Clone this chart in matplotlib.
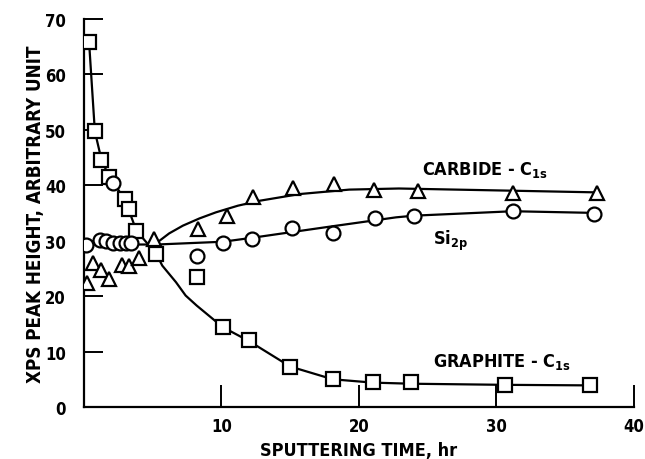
import matplotlib
matplotlib.use("Agg")
import matplotlib.pyplot as plt

# ---- data ----
graphite_x = [0.38, 0.8, 1.28, 1.84, 2.97, 3.28, 3.82, 5.27, 8.2, 10.1, 12.0, 15.0, 18.1, 21.0, 23.8, 30.6, 36.8]
graphite_y = [65.8, 49.7, 44.6, 41.5, 37.5, 35.7, 31.8, 27.6, 23.4, 14.4, 12.1, 7.3, 5.05, 4.45, 4.45, 3.9, 3.9]

carbide_x = [0.2, 0.7, 1.25, 1.85, 2.8, 3.3, 4.0, 5.1, 8.3, 10.4, 12.3, 15.2, 18.2, 21.1, 24.3, 31.2, 37.3]
carbide_y = [22.4, 25.9, 24.7, 23.0, 25.6, 25.4, 26.8, 30.3, 32.1, 34.4, 37.8, 39.5, 40.3, 39.2, 39.0, 38.6, 38.6]

si_x = [0.19, 1.16, 1.64, 2.12, 2.1, 2.6, 3.1, 3.45, 8.2, 10.1, 12.2, 15.1, 18.1, 21.2, 24.0, 31.2, 37.1]
si_y = [29.2, 30.2, 30.0, 29.6, 40.4, 29.6, 29.6, 29.6, 27.3, 29.5, 30.3, 32.3, 31.4, 34.1, 34.4, 35.4, 34.8]

# guide curves
graphite_curve_x = [0.38, 0.8, 1.28, 1.84, 2.97, 3.82, 5.27, 5.7, 6.7, 7.4, 8.2, 10.1, 12.0, 15.0, 18.1, 21.0, 23.8, 30.6, 36.8]
graphite_curve_y = [65.8, 49.7, 44.6, 41.5, 37.5, 31.8, 27.6, 25.5, 22.5, 20.1, 18.3, 14.4, 11.9, 7.3, 5.0, 4.4, 4.2, 4.0, 3.9]

carbide_curve_x = [5.3, 6.2, 7.2, 8.4, 9.6, 11.2, 12.8, 15.7, 19.3, 22.9, 31.2, 37.3]
carbide_curve_y = [29.6, 31.3, 32.7, 34.0, 35.1, 36.3, 37.2, 38.4, 39.2, 39.4, 39.0, 38.7]

si_curve_x = [0.0, 5.3, 10.1, 12.2, 15.0, 18.1, 22.7, 24.0, 31.2, 37.1]
si_curve_y = [29.3, 29.3, 29.8, 30.5, 31.5, 32.6, 34.2, 34.5, 35.3, 35.0]

x_ticks = [10, 20, 30, 40]
y_ticks = [0, 10, 20, 30, 40, 50, 60, 70]

plt.rcParams["font.family"] = ["DejaVu Sans"]
plt.rcParams["font.stretch"] = "condensed"
plt.rcParams["font.weight"] = "bold"
plt.rcParams["mathtext.fontset"] = "custom"
plt.rcParams["mathtext.rm"] = "DejaVu Sans:weight=bold:stretch=condensed"
plt.rcParams["mathtext.it"] = "DejaVu Sans:weight=bold:stretch=condensed"
plt.rcParams["mathtext.bf"] = "DejaVu Sans:weight=bold:stretch=condensed"

TXT = dict(fontsize=13, fontweight="bold", fontstretch="condensed")

fig = plt.figure(figsize=(6.45, 4.6), dpi=100)
ax = fig.add_axes([0.130, 0.113, 0.853, 0.844])

lw = 1.6
ax.plot(graphite_curve_x, graphite_curve_y, color="black", lw=lw, zorder=2)
ax.plot(carbide_curve_x, carbide_curve_y, color="black", lw=lw, zorder=2)
ax.plot(si_curve_x, si_curve_y, color="black", lw=lw, zorder=2)

mk = dict(linestyle="none", markerfacecolor="white", markeredgecolor="black",
          markeredgewidth=1.6, zorder=3)
ax.plot(graphite_x, graphite_y, marker="s", markersize=9.5, **mk)
ax.plot(carbide_x, carbide_y, marker="^", markersize=10.5, **mk)
ax.plot(si_x, si_y, marker="o", markersize=10, **mk)

ax.set_xlim(0, 40)
ax.set_ylim(0, 70)
ax.set_xticks(x_ticks)
ax.set_yticks(y_ticks)
ax.spines["top"].set_visible(False)
ax.spines["right"].set_visible(False)
for s in ("left", "bottom"):
    ax.spines[s].set_linewidth(1.6)
ax.tick_params(axis="y", direction="in", length=14, width=1.4, pad=13, labelsize=12)
ax.tick_params(axis="x", direction="in", length=16, width=1.4, pad=7, labelsize=12)
for lab in ax.get_xticklabels() + ax.get_yticklabels():
    lab.set_fontweight("bold")
    lab.set_fontstretch("condensed")

ax.set_xlabel("SPUTTERING TIME, hr", **TXT)
ax.set_ylabel("XPS PEAK HEIGHT, ARBITRARY UNIT", fontsize=13.5, fontweight="bold", fontstretch="condensed")
ax.xaxis.set_label_coords(0.50, -0.088)
ax.yaxis.set_label_coords(-0.071, 0.5)

ax.text(24.6, 43, r"CARBIDE - C$_{\mathrm{1s}}$", va="center", ha="left", **TXT)
ax.text(25.4, 30.2, r"Si$_{\mathrm{2p}}$", va="center", ha="left", **TXT)
ax.text(25.4, 8.3, r"GRAPHITE - C$_{\mathrm{1s}}$", va="center", ha="left", **TXT)

fig.savefig("out.png", dpi=100, facecolor="white")
